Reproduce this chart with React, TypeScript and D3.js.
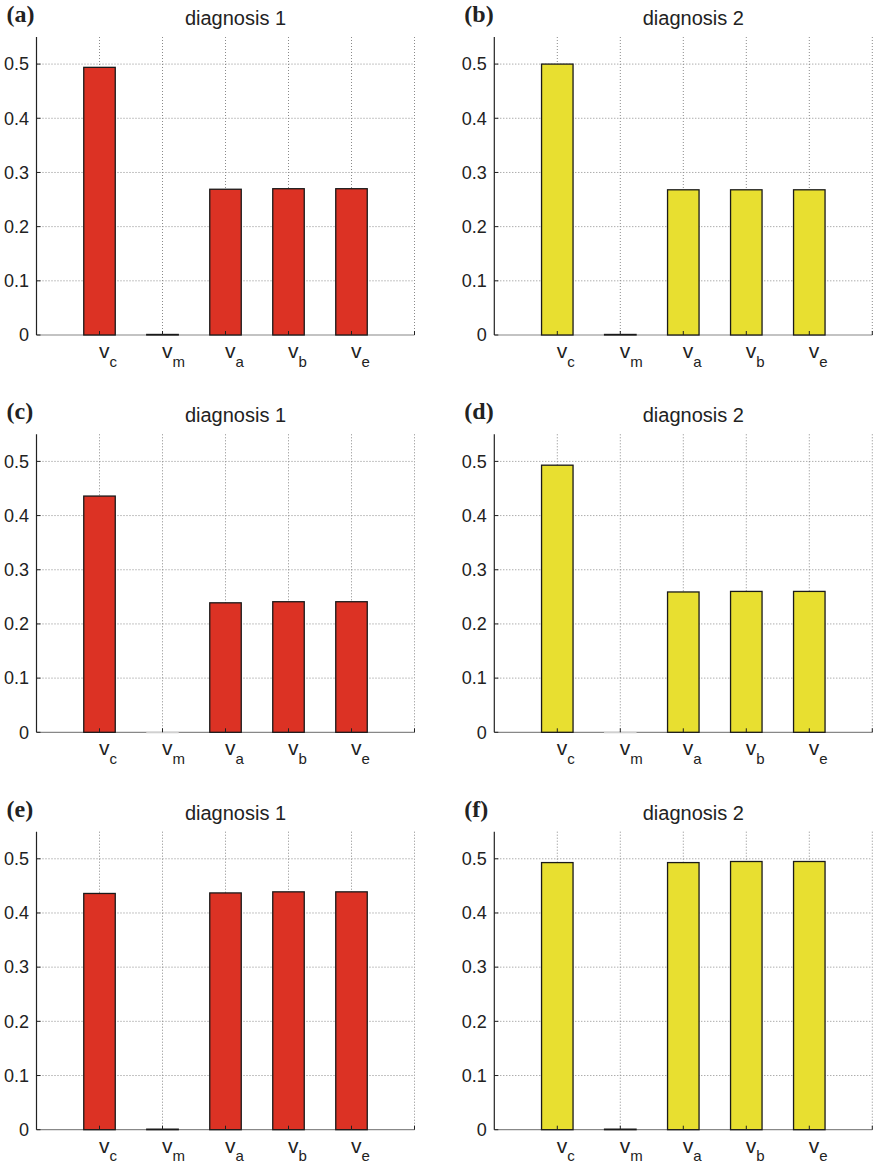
import React from "react";
import * as d3 from "d3";

// Subscripts of the variable labels v_c, v_m, v_a, v_b, v_e
const categories = ["c", "m", "a", "b", "e"];

// Bar heights per panel
const valuesA = [0.494, 0.001, 0.269, 0.27, 0.27];
const valuesB = [0.5, 0.001, 0.268, 0.268, 0.268];
const valuesC = [0.436, 0, 0.239, 0.241, 0.241];
const valuesD = [0.493, 0, 0.259, 0.26, 0.26];
const valuesE = [0.436, 0.001, 0.437, 0.439, 0.439];
const valuesF = [0.493, 0.001, 0.493, 0.495, 0.495];

const panelLetters = ["(a)", "(b)", "(c)", "(d)", "(e)", "(f)"];
const panelTitles = [
  "diagnosis 1",
  "diagnosis 2",
  "diagnosis 1",
  "diagnosis 2",
  "diagnosis 1",
  "diagnosis 2",
];
const panelValues = [valuesA, valuesB, valuesC, valuesD, valuesE, valuesF];

const yTicks = [0, 0.1, 0.2, 0.3, 0.4, 0.5];
const yTickLabels = ["0", "0.1", "0.2", "0.3", "0.4", "0.5"];

const RED = "#dc3224";
const YELLOW = "#e8df30";

const W = 874;
const H = 1168;
const colLeft = [36.5, 494.3];
const rowTop = [37, 434.3, 831.7];
const plotW = 378;
const plotH = 298;

const sans = "'Liberation Sans', Arial, Helvetica, sans-serif";
const serif = "'Liberation Serif', 'Times New Roman', serif";

function Panel({ idx }: { idx: number }) {
  const col = idx % 2;
  const row = Math.floor(idx / 2);
  const x0 = colLeft[col];
  const y0 = rowTop[row];
  const values = panelValues[idx];
  const fill = col === 0 ? RED : YELLOW;

  const x = d3.scaleLinear().domain([0, 6]).range([x0, x0 + plotW]);
  const y = d3.scaleLinear().domain([0, 0.55]).range([y0 + plotH, y0]);
  const bw = x(0.5) - x(0);
  const xGrid = d3.range(1, 7);

  return (
    <g>
      {/* panel letter and title */}
      <text
        x={x0 - 30}
        y={y0 - 15}
        fontFamily={serif}
        fontWeight="bold"
        fontSize={24}
        fill="#222"
      >
        {panelLetters[idx]}
      </text>
      <text
        x={(x(0) + x(6)) / 2 + 10}
        y={y0 - 12}
        textAnchor="middle"
        fontFamily={sans}
        fontSize={20}
        fill="#222"
      >
        {panelTitles[idx]}
      </text>

      {/* dotted grid */}
      {yTicks
        .filter((t) => t > 0)
        .map((t) => (
          <line
            key={"h" + t}
            x1={x(0)}
            x2={x(6)}
            y1={y(t)}
            y2={y(t)}
            stroke="#8a8a8a"
            strokeWidth={1}
            strokeDasharray="1 2"
          />
        ))}
      {xGrid.map((t) => (
        <line
          key={"v" + t}
          x1={x(t)}
          x2={x(t)}
          y1={y(0)}
          y2={y(0.55)}
          stroke="#8a8a8a"
          strokeWidth={1}
          strokeDasharray="1 2"
        />
      ))}

      {/* axes */}
      <line x1={x(0)} x2={x(6)} y1={y(0)} y2={y(0)} stroke="#888" strokeWidth={1.2} />

      {/* bars */}
      {values.map((v, i) => {
        const cx = x(i + 1);
        const top = y(v);
        const hgt = y(0) - top;
        return (
          <rect
            key={"b" + i}
            x={cx - bw / 2}
            y={top}
            width={bw}
            height={Math.max(hgt, 0.5)}
            fill={fill}
            stroke={v > 0 ? "#1a1a1a" : "#d0d0d0"}
            strokeWidth={v > 0 ? 1.3 : 1}
          />
        );
      })}

      <line x1={x(0)} x2={x(0)} y1={y(0)} y2={y(0.55)} stroke="#222" strokeWidth={1.2} />
      {yTicks.map((t) => (
        <line
          key={"yt" + t}
          x1={x(0)}
          x2={x(0) + 4}
          y1={y(t)}
          y2={y(t)}
          stroke="#222"
          strokeWidth={1}
        />
      ))}
      {xGrid.map((t) => (
        <line
          key={"xt" + t}
          x1={x(t)}
          x2={x(t)}
          y1={y(0)}
          y2={y(0) - 4}
          stroke="#222"
          strokeWidth={1}
        />
      ))}

      {/* y tick labels */}
      {yTicks.map((t, i) => (
        <text
          key={"yl" + t}
          x={x(0) - 7.5}
          y={y(t) + 6.3}
          textAnchor="end"
          fontFamily={sans}
          fontSize={18}
          fill="#222"
        >
          {yTickLabels[i]}
        </text>
      ))}

      {/* x tick labels: v with subscript */}
      {categories.map((c, i) => (
        <text
          key={"xl" + c}
          x={x(i + 1) - 0.5}
          y={y(0) + 23}
          fontFamily={sans}
          fontSize={21}
          fill="#222"
        >
          v
          <tspan dy={8.5} fontSize={15}>
            {c}
          </tspan>
        </text>
      ))}
    </g>
  );
}

export default function App() {
  return (
    <svg
      width={W}
      height={H}
      viewBox={`0 0 ${W} ${H}`}
      style={{ position: "absolute", left: 0, top: 0, background: "#fff" }}
    >
      <rect width={W} height={H} fill="#fff" />
      {panelValues.map((_, i) => (
        <Panel key={i} idx={i} />
      ))}
    </svg>
  );
}
